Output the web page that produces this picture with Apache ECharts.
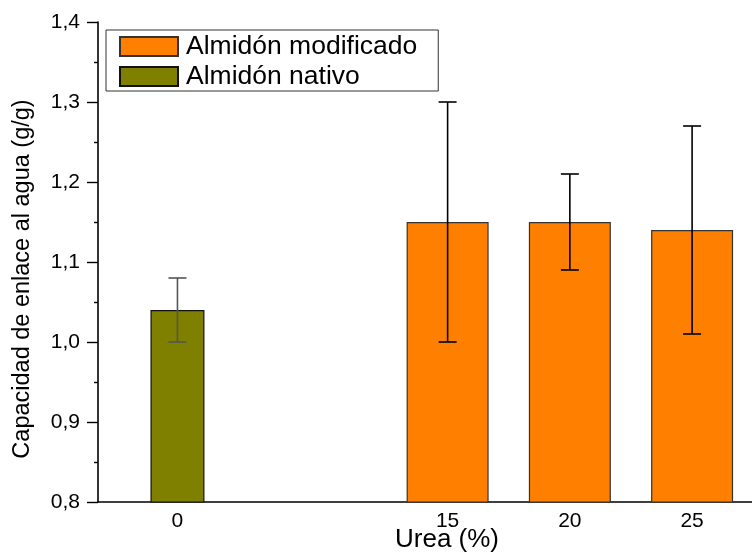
<!DOCTYPE html>
<html><head><meta charset="utf-8">
<script src="https://cdn.jsdelivr.net/npm/echarts@6/dist/echarts.min.js"></script>
<style>html,body{margin:0;padding:0;background:#fff}#c{width:752px;height:552px}</style>
</head><body><div id="c"></div>
<script>
// ---- data ----
const nativeName = 'Almidón nativo';
const nativeUrea = [0];
const nativeValues = [1.04];
const nativeErrLow = [1.00];
const nativeErrHigh = [1.08];

const modName = 'Almidón modificado';
const modUrea = [15, 20, 25];
const modValues = [1.15, 1.15, 1.14];
const modErrLow = [1.00, 1.09, 1.01];
const modErrHigh = [1.30, 1.21, 1.27];

const xTickNative = [0];
const xTickMod = [15, 20, 25];
const yMin = 0.8, yMax = 1.4, yStep = 0.1;

const xTitle = 'Urea (%)';
const yTitle = 'Capacidad de enlace al agua (g/g)';

// ---- chart ----
const FONT = 'Arial, "Liberation Sans", sans-serif';
const chart = echarts.init(document.getElementById('c'), null, {renderer: 'canvas'});

function errRender(color) {
  return function (params, api) {
    const x = api.value(0), lo = api.value(1), hi = api.value(2);
    const pLo = api.coord([x, lo]);
    const pHi = api.coord([x, hi]);
    const h = 9;
    const st = {stroke: color, lineWidth: 1.6};
    return {
      type: 'group',
      children: [
        {type: 'line', shape: {x1: pLo[0], y1: pLo[1], x2: pHi[0], y2: pHi[1]}, style: st},
        {type: 'line', shape: {x1: pHi[0] - h, y1: pHi[1], x2: pHi[0] + h, y2: pHi[1]}, style: st},
        {type: 'line', shape: {x1: pLo[0] - h, y1: pLo[1], x2: pLo[0] + h, y2: pLo[1]}, style: st}
      ]
    };
  };
}

const xLabelStyle = {fontSize: 21, color: '#000', fontFamily: FONT, margin: 9};

const option = {
  animation: false,
  backgroundColor: '#fff',
  textStyle: {fontFamily: FONT},
  grid: {left: 98, right: 0, top: 22, bottom: 50, containLabel: false, outerBoundsMode: 'none'},
  legend: {
    orient: 'vertical',
    left: 106, top: 30,
    padding: [3, 21, 1, 13],
    borderColor: '#333', borderWidth: 1,
    itemWidth: 58, itemHeight: 19, itemGap: 3,
    icon: 'rect',
    data: [modName, nativeName],
    textStyle: {fontSize: 26.5, lineHeight: 26, color: '#000', fontFamily: FONT, padding: [0, 0, 0, 3]}
  },
  xAxis: [
    {
      type: 'value', min: 0.7, max: 27.45, position: 'bottom',
      axisLine: {show: true, onZero: false, lineStyle: {color: '#000', width: 1.6}},
      axisTick: {show: false}, splitLine: {show: false},
      axisLabel: Object.assign({customValues: xTickMod}, xLabelStyle),
      name: xTitle, nameLocation: 'middle', nameGap: 25, nameMoveOverlap: false,
      nameTextStyle: {fontSize: 26, color: '#000', fontFamily: FONT, padding: [0, 0, 0, 44]}
    },
    {
      type: 'value', min: -3.25, max: 23.5, position: 'bottom',
      axisLine: {show: false, onZero: false}, axisTick: {show: false}, splitLine: {show: false},
      axisLabel: Object.assign({customValues: xTickNative}, xLabelStyle)
    }
  ],
  yAxis: {
    type: 'value', min: yMin, max: yMax, interval: yStep,
    axisLine: {show: true, onZero: false, lineStyle: {color: '#000', width: 1.6}},
    axisTick: {show: true, inside: false, length: 11, lineStyle: {color: '#000', width: 1.4}},
    minorTick: {show: true, splitNumber: 2, length: 4, lineStyle: {color: '#000', width: 1.4}},
    splitLine: {show: false},
    axisLabel: {
      fontSize: 21, color: '#000', fontFamily: FONT, margin: 18,
      formatter: v => v.toFixed(1).replace('.', ',')
    },
    name: yTitle, nameLocation: 'middle', nameGap: 63, nameMoveOverlap: false,
    nameTextStyle: {fontSize: 23.5, color: '#000', fontFamily: FONT, padding: [0, 34, 0, 0]}
  },
  series: [
    {
      name: modName, type: 'bar', xAxisIndex: 0, barWidth: 82,
      itemStyle: {color: '#FF8000', borderColor: '#333', borderWidth: 1.2},
      data: modUrea.map((u, i) => [u, modValues[i]]), z: 2
    },
    {
      name: nativeName, type: 'bar', xAxisIndex: 1, barWidth: 54,
      itemStyle: {color: '#808000', borderColor: '#111', borderWidth: 1.2},
      data: nativeUrea.map((u, i) => [u, nativeValues[i]]), z: 2
    },
    {
      type: 'custom', xAxisIndex: 0, renderItem: errRender('#000'), z: 5,
      encode: {x: 0, y: [1, 2]},
      data: modUrea.map((u, i) => [u, modErrLow[i], modErrHigh[i]])
    },
    {
      type: 'custom', xAxisIndex: 1, renderItem: errRender('#555'), z: 5,
      encode: {x: 0, y: [1, 2]},
      data: nativeUrea.map((u, i) => [u, nativeErrLow[i], nativeErrHigh[i]])
    }
  ]
};
chart.setOption(option);
</script>
</body></html>
